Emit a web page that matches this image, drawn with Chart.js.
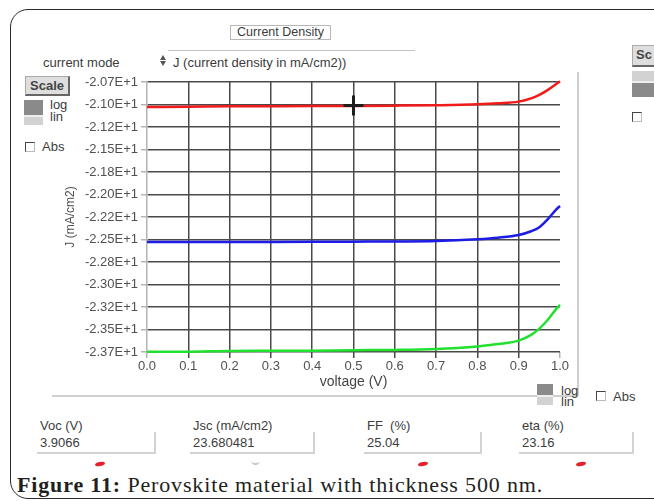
<!DOCTYPE html>
<html>
<head>
<meta charset="utf-8">
<title>Current Density</title>
<script src="https://cdn.jsdelivr.net/npm/chart.js@4.4.1/dist/chart.umd.min.js"></script>
<style>
  body { margin: 0; width: 654px; height: 501px; overflow: hidden; background: #fff; position: relative;
         font-family: "Liberation Sans", Arial, sans-serif; font-size: 13px; color: #3c3c3c; }
  .abs { position: absolute; white-space: nowrap; line-height: 15px; }
  #frame { position: absolute; left: 10px; top: 9px; width: 720px; height: 488px;
           border: 1.5px solid #2a2a2a; border-radius: 18px; }
  #title-box { left: 230px; top: 25px; width: 99px; height: 13px; border: 1px solid #b8b8b8;
               font-size: 12.5px; line-height: 13px; text-align: center; }
  #mode-line { position: absolute; left: 168px; top: 50px; width: 247px; border-top: 1.5px solid #c4c4c4; }
  .spin { position: absolute; width: 0; height: 0; border-left: 3.5px solid transparent; border-right: 3.5px solid transparent; }
  .btn { position: absolute; background: #dedede; border: 1px solid #aaa; border-right: 2px solid #666;
         border-bottom: 2px solid #666; font-weight: bold; line-height: 17px; color: #444; }
  .loglin { position: absolute; }
  .box { position: absolute; width: 8px; height: 8px; border-left: 1.5px solid #444; border-top: 1.5px solid #444;
         border-right: 1px solid #bbb; border-bottom: 1px solid #bbb; background: #fff; }
  .panel-v { position: absolute; left: 577px; top: 72px; height: 324px; border-left: 2px solid #cfcfcf; }
  .panel-h { position: absolute; left: 52px; top: 395px; width: 526px; border-top: 2px solid #cfcfcf; }
  .field { position: absolute; top: 432px; height: 20px; border-right: 2px solid #d2d2d2; border-bottom: 2px solid #d2d2d2; }
  .mark { position: absolute; top: 462px; width: 10px; height: 4px; border-radius: 50%; background: #e3202c; transform: rotate(-12deg); }
  #caption { left: 17px; top: 473px; font-family: "Liberation Serif", "Times New Roman", serif; font-size: 22px;
             letter-spacing: 0.85px; line-height: 23px; color: #231f20; }
  #chart { position: absolute; left: 0; top: 0; }
</style>
</head>
<body>
<div id="frame"></div>

<div class="abs" id="title-box">Current Density</div>
<div id="mode-line"></div>
<div class="spin" style="left:160px; top:55px; border-bottom:5px solid #555;"></div>
<div class="spin" style="left:160px; top:61px; border-top:5px solid #555;"></div>
<div class="abs" style="left:173px; top:55px;">J (current density in mA/cm2))</div>
<div class="abs" style="left:43px; top:55px;">current mode</div>

<div class="btn" style="left:25px; top:76px; width:42px; height:17px; text-align:center;">Scale</div>
<div class="loglin" style="left:24px; top:100px; width:19px; height:15px; background:#8a8a8a;"></div>
<div class="loglin" style="left:24px; top:115px; width:19px; height:10px; background:#d2d2d2; border-top:2px solid #eee; box-sizing:border-box;"></div>
<div class="abs" style="left:50px; top:99px; line-height:12px;">log</div>
<div class="abs" style="left:50px; top:111px; line-height:12px;">lin</div>
<div class="box" style="left:25px; top:142px;"></div>
<div class="abs" style="left:42px; top:139px;">Abs</div>

<div class="btn" style="left:632px; top:45px; width:30px; height:19px; padding-left:3px;">Sc</div>
<div class="loglin" style="left:632px; top:71px; width:24px; height:12px; background:#d2d2d2; border-bottom:2px solid #eee; box-sizing:border-box;"></div>
<div class="loglin" style="left:632px; top:83px; width:24px; height:14px; background:#8a8a8a;"></div>
<div class="box" style="left:632px; top:112px;"></div>

<div class="panel-v"></div>
<div class="panel-h"></div>

<div class="loglin" style="left:537px; top:384px; width:16px; height:11px; background:#8a8a8a;"></div>
<div class="loglin" style="left:537px; top:395px; width:16px; height:10px; background:#d2d2d2; border-top:2px solid #eee; box-sizing:border-box;"></div>
<div class="abs" style="left:561px; top:385px; line-height:11px;">log</div>
<div class="abs" style="left:561px; top:396px; line-height:11px;">lin</div>
<div class="box" style="left:596px; top:391px;"></div>
<div class="abs" style="left:613px; top:389px;">Abs</div>

<div class="abs" style="left:40px; top:418px;">Voc (V)</div>
<div class="abs" style="left:40px; top:435px;">3.9066</div>
<div class="field" style="left:37px; width:117px;"></div>
<div class="abs" style="left:193px; top:418px;">Jsc (mA/cm2)</div>
<div class="abs" style="left:193px; top:435px;">23.680481</div>
<div class="field" style="left:190px; width:123px;"></div>
<div class="abs" style="left:367px; top:418px;">FF&nbsp; (%)</div>
<div class="abs" style="left:367px; top:435px;">25.04</div>
<div class="field" style="left:364px; width:116px;"></div>
<div class="abs" style="left:522px; top:418px;">eta (%)</div>
<div class="abs" style="left:522px; top:435px;">23.16</div>
<div class="field" style="left:519px; width:113px;"></div>

<div class="mark" style="left:95px;"></div>
<div style="position:absolute; left:251px; top:459px; width:9px; height:4px; border-bottom:2px solid #c8c8c8; border-radius:0 0 6px 6px;"></div>
<div class="mark" style="left:418px;"></div>
<div class="mark" style="left:576px;"></div>

<div class="abs" id="caption"><b>Figure 11:</b> Perovskite material with thickness 500 nm.</div>

<canvas id="chart" width="654" height="501"></canvas>

<script>
// J-V sweep, voltage in V, current density in mA/cm2
const voltage = [0.0, 0.1, 0.2, 0.3, 0.4, 0.5, 0.6, 0.7, 0.8, 0.85, 0.9, 0.93, 0.95, 0.97, 0.99, 1.0];
const redJ   = [-20.979, -20.975, -20.970, -20.969, -20.968, -20.966, -20.963, -20.958, -20.948, -20.937, -20.918, -20.882, -20.842, -20.790, -20.726, -20.692];
const blueJ  = [-22.478, -22.477, -22.477, -22.477, -22.476, -22.474, -22.472, -22.467, -22.447, -22.430, -22.400, -22.358, -22.313, -22.226, -22.120, -22.078];
const greenJ = [-23.697, -23.696, -23.688, -23.687, -23.685, -23.680, -23.677, -23.667, -23.638, -23.612, -23.574, -23.510, -23.440, -23.345, -23.226, -23.176];

// crosshair cursor on the red trace
const cursorV = 0.5;
const cursorJ = -20.962;

const yTickLabels = ['-2.07E+1', '-2.10E+1', '-2.12E+1', '-2.15E+1', '-2.18E+1', '-2.20E+1', '-2.22E+1',
                     '-2.25E+1', '-2.28E+1', '-2.30E+1', '-2.32E+1', '-2.35E+1', '-2.37E+1'];
const xTickLabels = ['0.0', '0.1', '0.2', '0.3', '0.4', '0.5', '0.6', '0.7', '0.8', '0.9', '1.0'];

const yMax = -20.7;
const yStep = 0.25;
const yMin = yMax - yStep * (yTickLabels.length - 1);

const toPoints = values => values.map((j, i) => ({x: voltage[i], y: j}));

const gridDark = '#4a4a4a';
const gridLight = '#b4b4b4';

function traceDataset(values, color) {
    return {
        type: 'line',
        data: toPoints(values),
        borderColor: color,
        borderWidth: 2.5,
        pointRadius: 0,
        cubicInterpolationMode: 'monotone',
        clip: 4,
        order: 1
    };
}

new Chart(document.getElementById('chart'), {
    type: 'line',
    data: {
        datasets: [
            traceDataset(redJ, '#f01c1c'),
            traceDataset(blueJ, '#1c1ce6'),
            traceDataset(greenJ, '#22e030'),
            {
                // drawn last so it sits over the red trace
                type: 'scatter',
                data: [{x: cursorV, y: cursorJ}],
                pointStyle: 'cross',
                pointRadius: 10,
                borderWidth: 3,
                borderColor: '#1e1e1e',
                order: 0
            }
        ]
    },
    options: {
        responsive: false,
        animation: false,
        events: [],
        layout: {padding: {left: 57, right: 94, top: 82, bottom: 107}},
        plugins: {legend: {display: false}, tooltip: {enabled: false}},
        scales: {
            x: {
                type: 'linear',
                min: 0,
                max: 1,
                afterBuildTicks: scale => {
                    scale.ticks = xTickLabels.map((_, i) => ({value: i / 10}));
                },
                afterFit: scale => { scale.height = 42; },
                ticks: {
                    callback: (value, index) => xTickLabels[index],
                    font: {family: 'Liberation Sans', size: 13},
                    color: '#505050',
                    padding: 1,
                    maxRotation: 0
                },
                grid: {
                    lineWidth: 1.5,
                    tickLength: 6,
                    color: ctx => (ctx.index === 0 || ctx.index === xTickLabels.length - 1) ? 'rgba(0,0,0,0)' : gridDark,
                    tickColor: ctx => (ctx.index === 0 || ctx.index === xTickLabels.length - 1) ? gridLight : gridDark
                },
                border: {display: false},
                title: {
                    display: true,
                    text: 'voltage (V)',
                    font: {family: 'Liberation Sans', size: 14},
                    color: '#454545',
                    padding: {top: 0, bottom: 3}
                }
            },
            y: {
                type: 'linear',
                min: yMin,
                max: yMax,
                afterBuildTicks: scale => {
                    scale.ticks = yTickLabels.map((_, i) => ({value: yMin + i * yStep}));
                },
                afterFit: scale => { scale.width = 90; },
                ticks: {
                    callback: value => yTickLabels[Math.round((yMax - value) / yStep)],
                    font: {family: 'Liberation Sans', size: 13},
                    color: '#505050',
                    padding: 3
                },
                grid: {
                    lineWidth: 1.5,
                    tickLength: 6,
                    color: gridDark,
                    tickColor: gridLight
                },
                border: {display: true, color: gridLight, width: 1.5},
                title: {
                    display: true,
                    text: 'J (mA/cm2)',
                    font: {family: 'Liberation Sans', size: 12},
                    color: '#505050',
                    padding: {top: 6, bottom: 0}
                }
            }
        }
    }
});
</script>
</body>
</html>
